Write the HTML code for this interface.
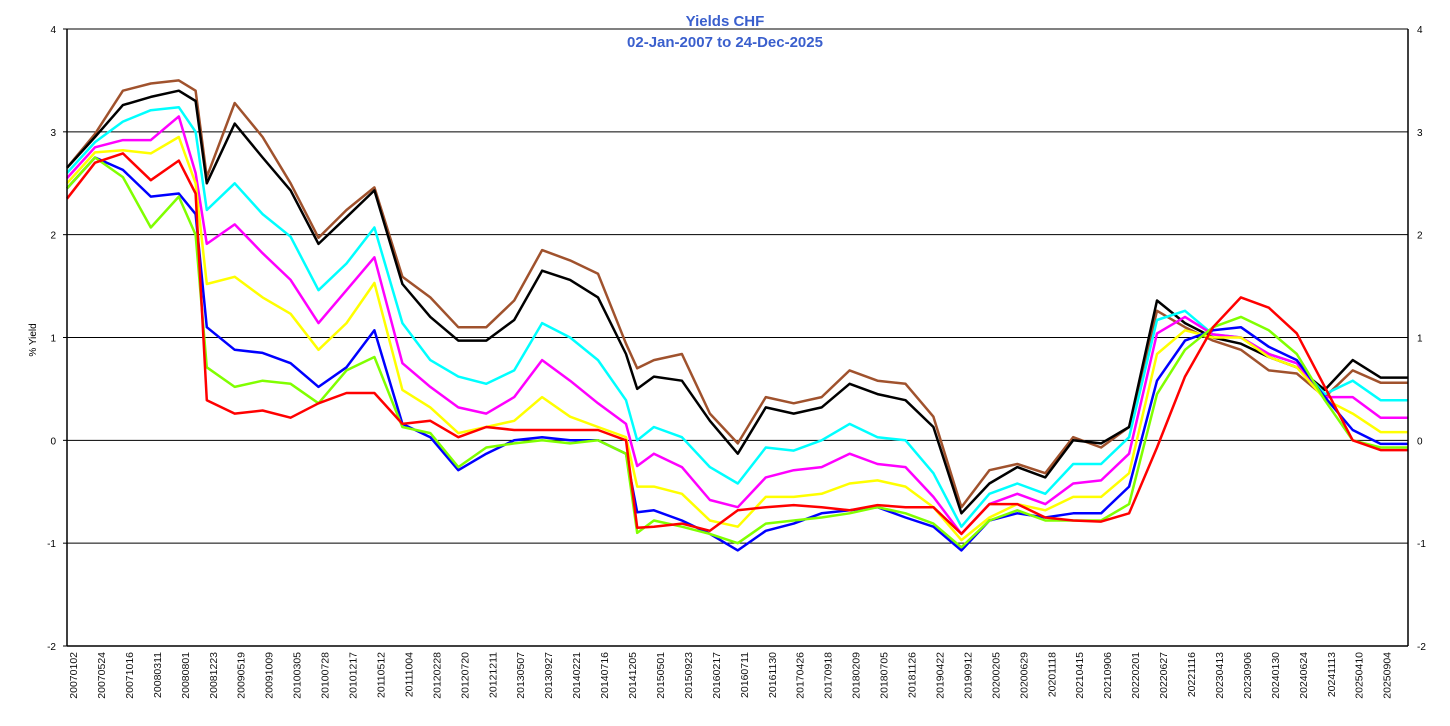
<!DOCTYPE html>
<html><head><meta charset="utf-8"><style>
html,body{margin:0;padding:0;background:#fff;}
svg{display:block;font-family:"Liberation Sans",sans-serif;}
</style></head><body>
<svg id="chart" width="1450" height="726" xmlns="http://www.w3.org/2000/svg">
<text x="725" y="26" text-anchor="middle" font-size="15" font-weight="bold" fill="#3a5fcd">Yields CHF</text>
<text x="725" y="47" text-anchor="middle" font-size="15" font-weight="bold" fill="#3a5fcd">02-Jan-2007 to 24-Dec-2025</text>
<text transform="translate(36,340) rotate(-90)" text-anchor="middle" font-size="10" fill="#000">% Yield</text>
<g id="grid"></g><g id="series"></g><g id="axes"></g>
</svg>
<script>
const dateLabels=["20070102","20070524","20071016","20080311","20080801","20081223","20090519","20091009","20100305","20100728","20101217","20110512","20111004","20120228","20120720","20121211","20130507","20130927","20140221","20140716","20141205","20150501","20150923","20160217","20160711","20161130","20170426","20170918","20180209","20180705","20181126","20190422","20190912","20200205","20200629","20201118","20210415","20210906","20220201","20220627","20221116","20230413","20230906","20240130","20240624","20241113","20250410","20250904"];
const yTicks=[-2,-1,0,1,2,3,4];
const seriesNames=["brown","black","cyan","magenta","yellow","blue","green","red"];
const timeIdx=[0,1,2,3,4,4.6,5,6,7,8,9,10,11,12,13,14,15,16,17,18,19,20,20.4,21,22,23,24,25,26,27,28,29,30,31,32,33,34,35,36,37,38,39,40,41,42,43,44,45,46,47,48];
const brownVals=[2.65,2.98,3.4,3.47,3.5,3.4,2.56,3.28,2.95,2.5,1.97,2.24,2.46,1.59,1.39,1.1,1.1,1.36,1.85,1.75,1.62,0.94,0.7,0.78,0.84,0.26,-0.03,0.42,0.36,0.42,0.68,0.58,0.55,0.23,-0.65,-0.29,-0.23,-0.32,0.03,-0.07,0.13,1.26,1.1,0.97,0.88,0.68,0.65,0.42,0.68,0.56,0.56];
const blackVals=[2.65,2.95,3.26,3.34,3.4,3.3,2.5,3.08,2.75,2.43,1.91,2.17,2.43,1.52,1.2,0.97,0.97,1.17,1.65,1.56,1.39,0.84,0.5,0.62,0.58,0.19,-0.13,0.32,0.26,0.32,0.55,0.45,0.39,0.13,-0.71,-0.42,-0.26,-0.36,0,-0.03,0.13,1.36,1.14,1.0,0.94,0.81,0.71,0.49,0.78,0.61,0.61];
const cyanVals=[2.6,2.9,3.1,3.21,3.24,3.0,2.24,2.5,2.2,1.98,1.46,1.72,2.07,1.14,0.78,0.62,0.55,0.68,1.14,1.0,0.78,0.39,0.0,0.13,0.03,-0.26,-0.42,-0.07,-0.1,0,0.16,0.03,0,-0.32,-0.84,-0.52,-0.42,-0.52,-0.23,-0.23,0.03,1.17,1.26,1.03,1.0,0.84,0.75,0.45,0.58,0.39,0.39];
const magentaVals=[2.55,2.85,2.92,2.92,3.15,2.6,1.91,2.1,1.82,1.56,1.14,1.46,1.78,0.75,0.52,0.32,0.26,0.42,0.78,0.58,0.36,0.16,-0.25,-0.13,-0.26,-0.58,-0.65,-0.36,-0.29,-0.26,-0.13,-0.23,-0.26,-0.55,-0.91,-0.62,-0.52,-0.62,-0.42,-0.39,-0.13,1.04,1.2,1.03,1.0,0.84,0.75,0.42,0.42,0.22,0.22];
const yellowVals=[2.5,2.8,2.82,2.79,2.95,2.5,1.52,1.59,1.39,1.23,0.88,1.14,1.53,0.49,0.32,0.07,0.13,0.19,0.42,0.23,0.13,0.03,-0.45,-0.45,-0.52,-0.78,-0.84,-0.55,-0.55,-0.52,-0.42,-0.39,-0.45,-0.65,-0.97,-0.75,-0.62,-0.68,-0.55,-0.55,-0.32,0.84,1.07,1.0,1.0,0.81,0.71,0.4,0.26,0.08,0.08];
const blueVals=[2.45,2.75,2.63,2.37,2.4,2.2,1.1,0.88,0.85,0.75,0.52,0.71,1.07,0.16,0.03,-0.29,-0.13,0,0.03,0,0,-0.13,-0.7,-0.68,-0.78,-0.91,-1.07,-0.88,-0.81,-0.71,-0.68,-0.65,-0.75,-0.84,-1.07,-0.78,-0.71,-0.75,-0.71,-0.71,-0.45,0.58,0.97,1.07,1.1,0.91,0.78,0.42,0.1,-0.035,-0.035];
const greenVals=[2.45,2.75,2.56,2.07,2.37,2.0,0.71,0.52,0.58,0.55,0.36,0.68,0.81,0.13,0.07,-0.26,-0.07,-0.03,0,-0.03,0,-0.13,-0.9,-0.78,-0.84,-0.91,-1.0,-0.81,-0.78,-0.75,-0.71,-0.65,-0.71,-0.81,-1.04,-0.78,-0.68,-0.78,-0.78,-0.78,-0.62,0.45,0.88,1.1,1.2,1.07,0.84,0.39,0,-0.07,-0.07];
const redVals=[2.35,2.7,2.79,2.53,2.72,2.4,0.39,0.26,0.29,0.22,0.36,0.46,0.46,0.16,0.19,0.03,0.13,0.1,0.1,0.1,0.1,0,-0.85,-0.84,-0.81,-0.88,-0.68,-0.65,-0.63,-0.65,-0.68,-0.63,-0.65,-0.65,-0.91,-0.62,-0.62,-0.75,-0.78,-0.79,-0.71,-0.07,0.62,1.1,1.39,1.29,1.04,0.52,0,-0.095,-0.095];
const seriesData=[brownVals,blackVals,cyanVals,magentaVals,yellowVals,blueVals,greenVals,redVals];
const seriesColors=["#a0522d","#000000","#00ffff","#ff00ff","#ffff00","#0000ff","#80ff00","#ff0000"];

const L=67,R=1408,T=29,B=646,yMin=-2,yMax=4;
const step=27.95;
function xAt(t){return Math.min(L+t*step,R);}
function yAt(v){return B-(v-yMin)/(yMax-yMin)*(B-T);}
const NS="http://www.w3.org/2000/svg";
function mk(tag,parent){const e=document.createElementNS(NS,tag);parent.appendChild(e);return e;}
const grid=document.getElementById('grid'),axes=document.getElementById('axes'),ser=document.getElementById('series');
yTicks.forEach(t=>{
  const y=yAt(t);
  const ln=mk('line',grid);
  
  
  ln.setAttribute('x1',L);ln.setAttribute('x2',R);ln.setAttribute('y1',y);ln.setAttribute('y2',y);
  ln.setAttribute('stroke','#000');ln.setAttribute('stroke-width','1');
  const tl=mk('text',axes);
  
  
  tl.setAttribute('x',L-11);tl.setAttribute('y',y+4);tl.setAttribute('text-anchor','end');tl.setAttribute('font-size','10');
  tl.textContent=t;
  const tr=mk('text',axes);
  
  
  tr.setAttribute('x',R+9);tr.setAttribute('y',y+4);tr.setAttribute('font-size','10');
  tr.textContent=t;
  const tk=mk('line',axes);
  
  
  tk.setAttribute('x1',L-4);tk.setAttribute('x2',L);tk.setAttribute('y1',y);tk.setAttribute('y2',y);tk.setAttribute('stroke','#000');
});
[[L,T,L,B,'left-axis'],[R,T,R,B,'right-axis'],[L,B,R,B,'x-axis']].forEach(a=>{
  const ln=mk('line',axes);
  
  
  ln.setAttribute('x1',a[0]);ln.setAttribute('y1',a[1]);ln.setAttribute('x2',a[2]);ln.setAttribute('y2',a[3]);
  ln.setAttribute('stroke','#000');ln.setAttribute('stroke-width','1.5');
});
dateLabels.forEach((d,i)=>{
  const x=L+6+i*step;
  const t=mk('text',axes);
  
  
  t.setAttribute('transform','translate('+(x+4)+',652) rotate(-90)');
  t.setAttribute('text-anchor','end');t.setAttribute('font-size','10.5');t.setAttribute('fill','#111');
  t.textContent=d;
});
seriesData.forEach((vals,s)=>{
  const p=mk('polyline',ser);
  
  
  p.setAttribute('points',vals.map((v,i)=>xAt(timeIdx[i]).toFixed(1)+','+yAt(v).toFixed(1)).join(' '));
  p.setAttribute('fill','none');p.setAttribute('stroke',seriesColors[s]);p.setAttribute('stroke-width','2.5');p.setAttribute('stroke-linejoin','round');
});
</script>
</body></html>
